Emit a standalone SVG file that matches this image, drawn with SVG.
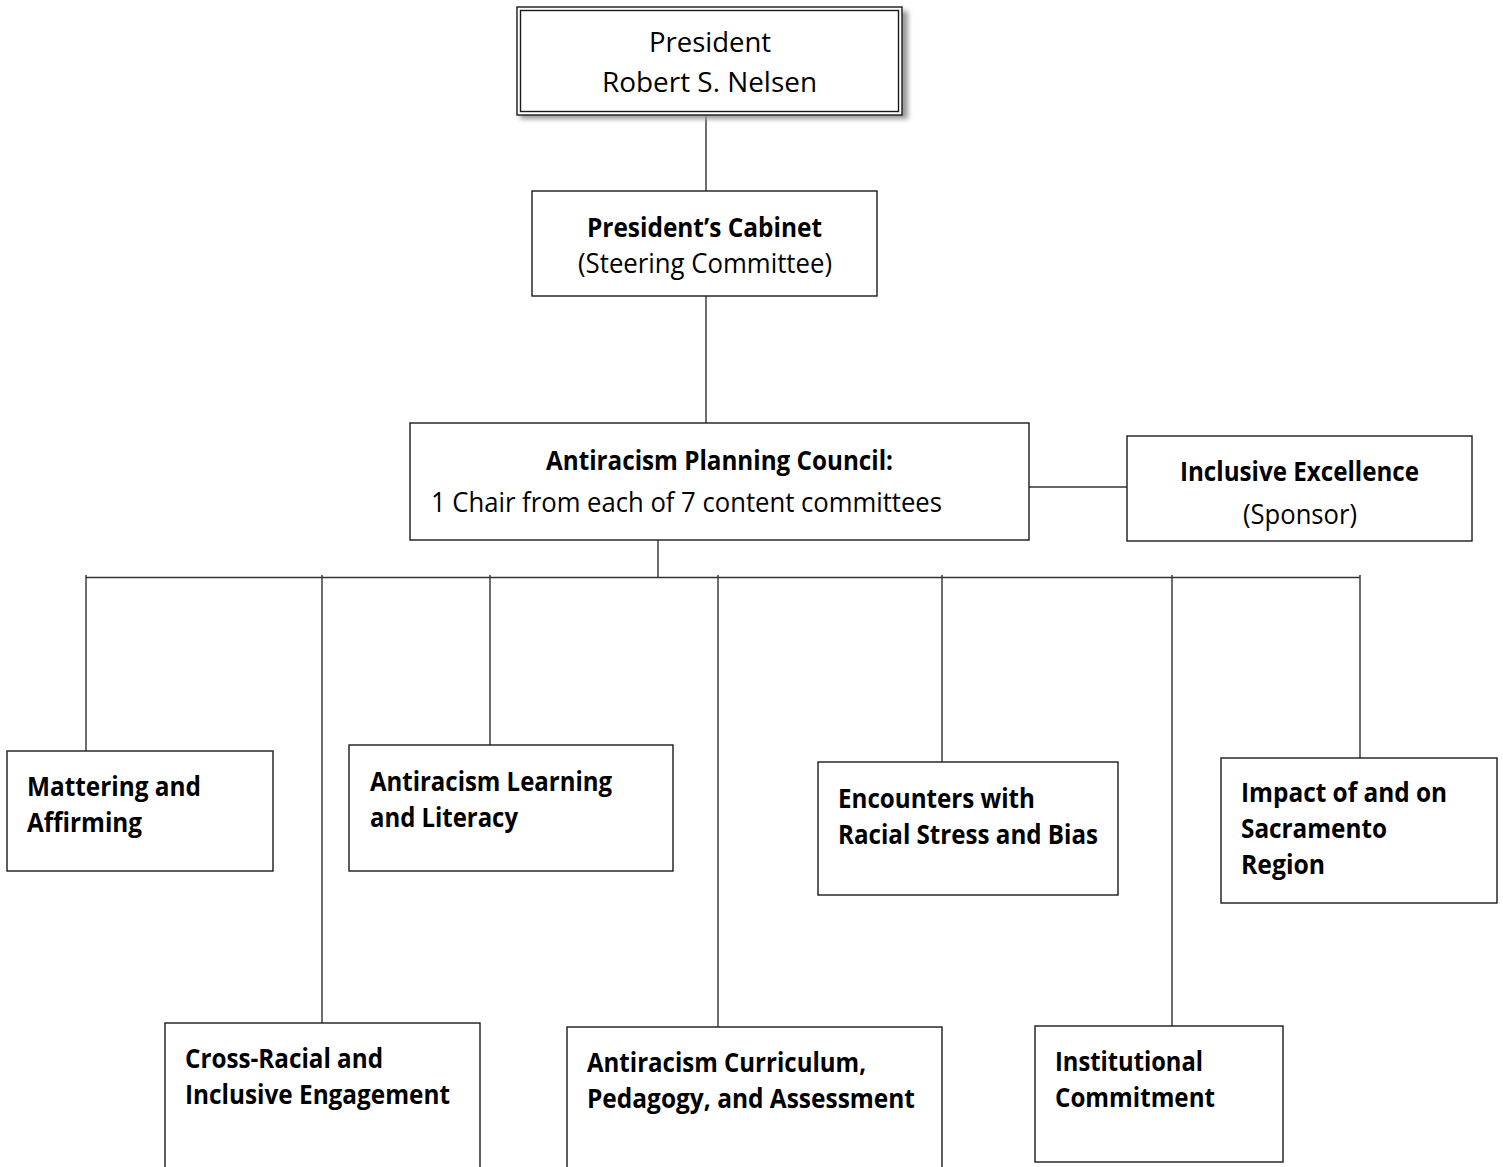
<svg xmlns="http://www.w3.org/2000/svg" width="1503" height="1167" viewBox="0 0 1503 1167">
<style>
.box{fill:#fff;stroke:#1a1a1a;stroke-width:1.4}
.ln{fill:none;stroke:#333;stroke-width:1.4}
.t{font-family:"Open Sans","Liberation Sans",sans-serif;font-size:27px;fill:#000}
.b{font-family:"Open Sans","Liberation Sans",sans-serif;font-size:26px;font-weight:bold;fill:#000}
</style>
<defs>
<filter id="sh" x="-10%" y="-20%" width="120%" height="140%">
<feGaussianBlur stdDeviation="2.5"/>
</filter>
</defs>
<rect width="1503" height="1167" fill="#fff"/>
<g id="connectors">
<path class="ln" d="M706,115V191M706,296V423M1029,487H1127M658,540V577.5M86,577.5H1360"/>
<path class="ln" d="M86,575V751M322,575V1023M490,575V745M718,575V1027M942,575V762M1172,575V1026M1360,575V758"/>
</g>
<g id="president">
<rect x="520" y="11" width="388" height="108" fill="#999" filter="url(#sh)"/>
<rect class="box" x="517" y="7" width="385" height="108"/>
<rect x="520.5" y="10.5" width="378" height="101" fill="none" stroke="#1a1a1a" stroke-width="1.4"/>
<text class="t" x="710" y="52" text-anchor="middle" textLength="122" lengthAdjust="spacingAndGlyphs">President</text>
<text class="t" x="709.5" y="92" text-anchor="middle" textLength="215" lengthAdjust="spacingAndGlyphs">Robert S. Nelsen</text>
</g>
<g id="cabinet">
<rect class="box" x="532" y="191" width="345" height="105"/>
<text class="b" x="704.5" y="237" text-anchor="middle" textLength="235" lengthAdjust="spacingAndGlyphs">President’s Cabinet</text>
<text class="t" x="705" y="273" text-anchor="middle" textLength="254" lengthAdjust="spacingAndGlyphs">(Steering Committee)</text>
</g>
<g id="council">
<rect class="box" x="410" y="423" width="619" height="117"/>
<text class="b" x="719.5" y="470" text-anchor="middle" textLength="347" lengthAdjust="spacingAndGlyphs">Antiracism Planning Council:</text>
<text class="t" x="431" y="512" textLength="511" lengthAdjust="spacingAndGlyphs">1 Chair from each of 7 content committees</text>
</g>
<g id="inclusive-excellence">
<rect class="box" x="1127" y="436" width="345" height="105"/>
<text class="b" x="1299.5" y="481" text-anchor="middle" textLength="239" lengthAdjust="spacingAndGlyphs">Inclusive Excellence</text>
<text class="t" x="1300" y="524" text-anchor="middle" textLength="114" lengthAdjust="spacingAndGlyphs">(Sponsor)</text>
</g>
<g id="mattering">
<rect class="box" x="7" y="751" width="266" height="120"/>
<text class="b" x="27" y="796" textLength="174" lengthAdjust="spacingAndGlyphs">Mattering and</text>
<text class="b" x="27" y="832" textLength="115" lengthAdjust="spacingAndGlyphs">Affirming</text>
</g>
<g id="learning">
<rect class="box" x="349" y="745" width="324" height="126"/>
<text class="b" x="370" y="791" textLength="242" lengthAdjust="spacingAndGlyphs">Antiracism Learning</text>
<text class="b" x="370" y="827" textLength="148" lengthAdjust="spacingAndGlyphs">and Literacy</text>
</g>
<g id="encounters">
<rect class="box" x="818" y="762" width="300" height="133"/>
<text class="b" x="838" y="808" textLength="197" lengthAdjust="spacingAndGlyphs">Encounters with</text>
<text class="b" x="838" y="844" textLength="260" lengthAdjust="spacingAndGlyphs">Racial Stress and Bias</text>
</g>
<g id="impact">
<rect class="box" x="1221" y="758" width="276" height="145"/>
<text class="b" x="1241" y="802" textLength="206" lengthAdjust="spacingAndGlyphs">Impact of and on</text>
<text class="b" x="1241" y="838" textLength="146" lengthAdjust="spacingAndGlyphs">Sacramento</text>
<text class="b" x="1241" y="874" textLength="84" lengthAdjust="spacingAndGlyphs">Region</text>
</g>
<g id="cross-racial">
<rect class="box" x="165" y="1023" width="315" height="150"/>
<text class="b" x="185" y="1068" textLength="198" lengthAdjust="spacingAndGlyphs">Cross-Racial and</text>
<text class="b" x="185" y="1104" textLength="265" lengthAdjust="spacingAndGlyphs">Inclusive Engagement</text>
</g>
<g id="curriculum">
<rect class="box" x="567" y="1027" width="375" height="146"/>
<text class="b" x="587" y="1072" textLength="279" lengthAdjust="spacingAndGlyphs">Antiracism Curriculum,</text>
<text class="b" x="587" y="1108" textLength="328" lengthAdjust="spacingAndGlyphs">Pedagogy, and Assessment</text>
</g>
<g id="institutional">
<rect class="box" x="1035" y="1026" width="248" height="136"/>
<text class="b" x="1055" y="1071" textLength="148" lengthAdjust="spacingAndGlyphs">Institutional</text>
<text class="b" x="1055" y="1107" textLength="160" lengthAdjust="spacingAndGlyphs">Commitment</text>
</g>
</svg>
